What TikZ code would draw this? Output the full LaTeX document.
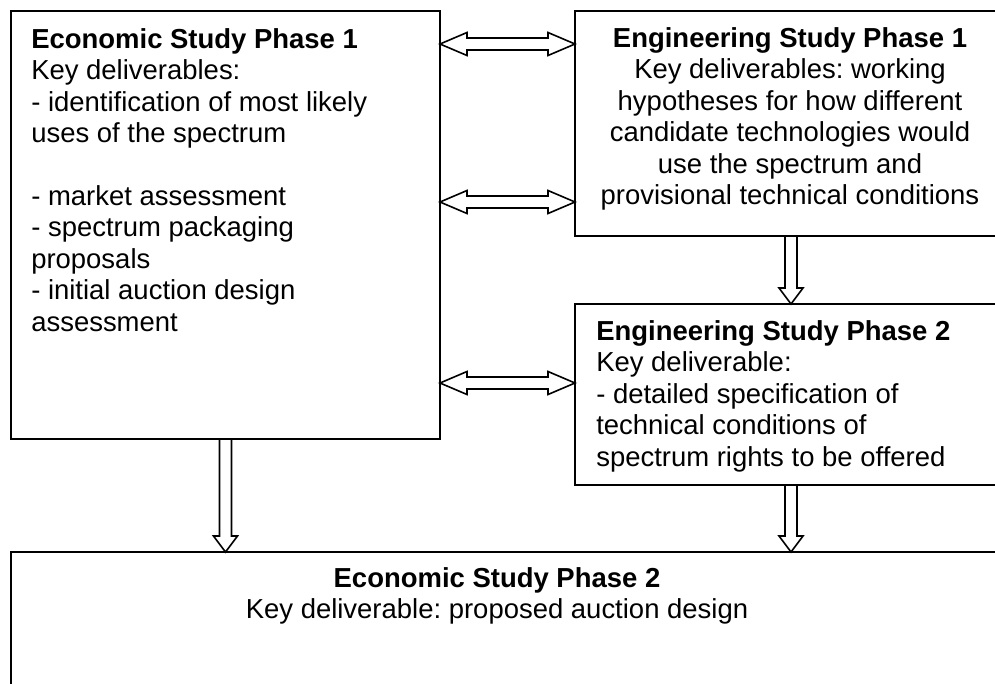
\documentclass[tikz,border=0pt]{standalone}
\usepackage{fontspec}
\setmainfont{Liberation Sans}
\usetikzlibrary{calc}
\frenchspacing

\newcommand{\pxu}{0.75pt}
% hollow two-headed arrow between two boxes, on row #3
\newcommand{\twoway}[3]{%
  \draw[hollow] (#1.east |- #3) -- ++(27,-11.5) -- ++(0,5.5)
    -- ($(#2.west |- #3)+(-27,-6)$) -- ++(0,-5.5) -- (#2.west |- #3)
    -- ++(-27,11.5) -- ++(0,-5.5) -- ($(#1.east |- #3)+(27,6)$)
    -- ++(0,5.5) -- cycle;}
% hollow down arrow from box #1 to box #2, on column #3
\newcommand{\downway}[3]{%
  \draw[hollow] ($(#1.south -| #3)+(-6,0)$) -- ($(#2.north -| #3)+(-6,-16)$)
    -- ++(-6,0) -- (#2.north -| #3) -- ++(12,-16) -- ++(-6,0)
    -- ($(#1.south -| #3)+(6,0)$) -- cycle;}

\begin{document}
\begin{tikzpicture}[x=0.75pt,y=-0.75pt]
  \tikzset{box/.style={draw,line width=1.4pt,inner sep=0pt,outer sep=0pt},
    hollow/.style={draw,fill=white,line width=1.2pt,line join=miter},
    boxtext/.style={inner sep=0pt,font=\fontsize{20.6}{23.6}\selectfont}}
  \useasboundingbox (0,0) rectangle (995,683);
  \clip (0,0) rectangle (995,683);

  \node[box,minimum width=429*\pxu,minimum height=428*\pxu] (econ1) at (225.5,225) {};
  \node[box,minimum width=430*\pxu,minimum height=225*\pxu] (eng1) at (790,123.5) {};
  \node[box,minimum width=430*\pxu,minimum height=181*\pxu] (eng2) at (790,394.5) {};
  \node[box,minimum width=994*\pxu,minimum height=168*\pxu] (econ2) at (508,636) {};

  \node[boxtext,anchor=north west,align=left] (econ1txt) at ($(econ1.north west)+(20,17)$)
    {\textbf{Economic Study Phase 1}\\Key deliverables:\\- identification of most likely\\
     uses of the spectrum\\[23.6pt]- market assessment\\- spectrum packaging\\proposals\\
     - initial auction design\\assessment};
  \node[boxtext,anchor=north,align=center] (eng1txt) at ($(eng1.north)+(0,16)$)
    {\textbf{Engineering Study Phase 1}\\Key deliverables: working\\hypotheses for how different\\
     candidate technologies would\\use the spectrum and\\provisional technical conditions};
  \node[boxtext,anchor=north west,align=left] (eng2txt) at ($(eng2.north west)+(21,16)$)
    {\textbf{Engineering Study Phase 2}\\Key deliverable:\\- detailed specification of\\
     technical conditions of\\spectrum rights to be offered};
  \node[boxtext,anchor=north,align=center] (econ2txt) at (497,567)
    {\textbf{Economic Study Phase 2}\\Key deliverable: proposed auction design};

  \coordinate (row1) at (0,44);
  \coordinate (row2) at (0,202);
  \coordinate (row3) at (0,383);
  \coordinate (col1) at (225.5,0);
  \coordinate (col2) at (791,0);
  \twoway{econ1}{eng1}{row1}
  \twoway{econ1}{eng1}{row2}
  \twoway{econ1}{eng2}{row3}
  \downway{eng1}{eng2}{col2}
  \downway{econ1}{econ2}{col1}
  \downway{eng2}{econ2}{col2}
\end{tikzpicture}
\end{document}
